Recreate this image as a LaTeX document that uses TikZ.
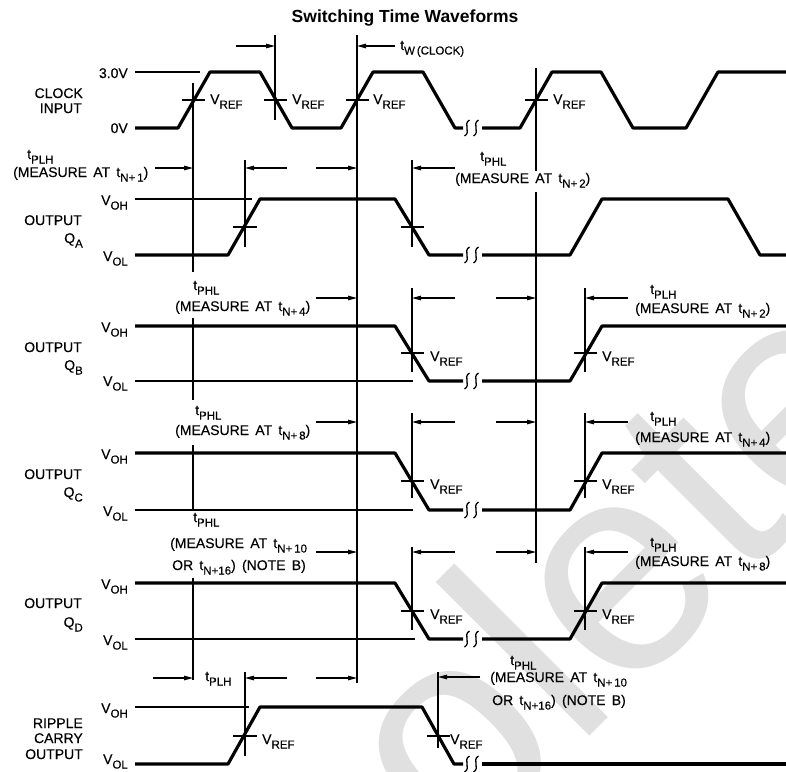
\documentclass[tikz,border=0pt]{standalone}
\usepackage{fontspec}
\setmainfont{Liberation Sans}
\newfontfamily\lblfont[WordSpace=1.6,FakeBold=0.3]{Liberation Sans}
\usetikzlibrary{arrows.meta}
\newcommand\lsub[1]{\raisebox{-4.5pt}{\fontsize{11.5}{11.5}\selectfont #1}}
\tikzset{
  wave/.style={line width=3.2pt, line join=round},
  thinln/.style={line width=1.1pt},
  meas/.style={line width=1.1pt, -{Triangle[length=9pt,width=4.5pt]}},
  lbl/.style={font=\fontsize{14}{16}\selectfont\lblfont, inner sep=0pt},
  brk/.pic={
    \draw[line width=1.3pt] (-2,-8) .. controls (-9,-4) and (0,4) .. (-7,8);
    \draw[line width=1.3pt] (7,-8) .. controls (0,-4) and (9,4) .. (2,8);
  }
}
\begin{document}
\begin{tikzpicture}[x=1pt,y=-1pt]
\useasboundingbox (0,0) rectangle (786,771);
\begin{scope}
  \clip (0,0) rectangle (786,771);
  \node[rotate=45, anchor=base west, text=black!12, font=\fontsize{300}{300}\selectfont, inner sep=0pt] (wm) at (68,1258) {Obsolete};
\end{scope}

% title
\node[font=\fontsize{17.5}{20}\selectfont\bfseries, inner sep=0pt] (title) at (405,18) {Switching Time Waveforms};

% ---------- CLOCK ----------
\draw[wave] (135,128) -- (178,128) -- (210,72) -- (260,72) -- (292,128) -- (341,128) -- (373,72) -- (423,72) -- (455,128) -- (463,128);
\draw[wave] (482,128) -- (520,128) -- (552,72) -- (601,72) -- (633,128) -- (686,128) -- (718,72) -- (786,72);
\draw[thinln] (135,72) -- (200,72);
\pic at (471.5,128) {brk};
\foreach \x in {193,275,357,536} \draw[thinln] (\x-11,100) -- (\x+12,100);

% ---------- Q_A ----------
\draw[wave] (135,255) -- (228,255) -- (260,199) -- (395,199) -- (429,255) -- (463,255);
\draw[wave] (482,255) -- (570,255) -- (602,199) -- (728,199) -- (760,255) -- (786,255);
\draw[thinln] (135,199) -- (252,199);
\pic at (471.5,255) {brk};
\draw[thinln] (233,227) -- (257,227);
\draw[thinln] (401,227) -- (424,227);

% ---------- Q_B ----------
\draw[wave] (135,326) -- (395,326) -- (429,381) -- (463,381);
\draw[wave] (482,381) -- (570,381) -- (602,326) -- (786,326);
\draw[thinln] (135,381) -- (413,381);
\pic at (471.5,381) {brk};
\draw[thinln] (401,353) -- (424,353);
\draw[thinln] (574,353) -- (597,353);

% ---------- Q_C ----------
\draw[wave] (135,453) -- (395,453) -- (429,510) -- (463,510);
\draw[wave] (482,510) -- (570,510) -- (602,453) -- (786,453);
\draw[thinln] (135,510) -- (413,510);
\pic at (471.5,510) {brk};
\draw[thinln] (401,481) -- (424,481);
\draw[thinln] (574,481) -- (597,481);

% ---------- Q_D ----------
\draw[wave] (135,583) -- (395,583) -- (429,639) -- (463,639);
\draw[wave] (482,639) -- (570,639) -- (602,583) -- (786,583);
\draw[thinln] (135,639) -- (415,639);
\pic at (471.5,639) {brk};
\draw[thinln] (401,611) -- (424,611);
\draw[thinln] (574,611) -- (597,611);

% ---------- Ripple carry ----------
\draw[wave] (135,764) -- (228,764) -- (260,707) -- (422,707) -- (454,764) -- (463,764);
\draw[wave] (482,764) -- (786,764);
\draw[thinln] (135,707) -- (249,707);
\pic at (471.5,764) {brk};
\draw[thinln] (233,736) -- (257,736);
\draw[thinln] (427,736) -- (450,736);

% ---------- vertical reference lines ----------
\draw[thinln] (193,83) -- (193,272) (193,318) -- (193,400) (193,445) -- (193,511) (193,578) -- (193,680);
\draw[thinln] (275,35) -- (275,120);
\draw[thinln] (357,35) -- (357,683);
\draw[thinln] (536,68) -- (536,171) (536,192) -- (536,563);
\draw[thinln] (245,160) -- (245,247) (245,672) -- (245,756);
\draw[thinln] (412,160) -- (412,247) (412,288) -- (412,372) (412,413) -- (412,498) (412,547) -- (412,630);
\draw[thinln] (585,288) -- (585,372) (585,413) -- (585,498) (585,547) -- (585,630);
\draw[thinln] (438,672) -- (438,748);

% arrows
\coordinate (tw1) at (236,46); \coordinate (tw1e) at (275,46);
\coordinate (tw2) at (395,46); \coordinate (tw2e) at (357,46);
\draw[meas] (tw1) -- (tw1e);
\draw[meas] (tw2) -- (tw2e);

\foreach \y in {168} {
  \draw[meas] (155,\y) -- (193,\y);
  \draw[meas] (287,\y) -- (245,\y);
  \draw[meas] (316,\y) -- (357,\y);
  \draw[meas] (455,\y) -- (412,\y);
}
\foreach \y in {298,422,552} {
  \draw[meas] (316,\y) -- (357,\y);
  \draw[meas] (455,\y) -- (412,\y);
  \draw[meas] (496,\y) -- (536,\y);
  \draw[meas] (628,\y) -- (585,\y);
}
\draw[meas] (153,678) -- (193,678);
\draw[meas] (287,678) -- (245,678);
\draw[meas] (316,678) -- (357,678);
\draw[meas] (480,677) -- (438,677);

% ---------- left labels ----------
\node[lbl,anchor=base east] (v30) at (128,78) {3.0V};
\node[lbl,anchor=base east] (v0) at (128,133) {0V};
\node[lbl,anchor=base east] (clk1) at (83,98) {CLOCK};
\node[lbl,anchor=base east] (clk2) at (82,113) {INPUT};

\node[lbl,anchor=base east] (qa1) at (82,225) {OUTPUT};
\node[lbl,anchor=base east] (qa2) at (83,243) {Q\lsub{A}};
\node[lbl,anchor=base east] (qaoh) at (128,205) {V\lsub{OH}};
\node[lbl,anchor=base east] (qaol) at (128,261) {V\lsub{OL}};

\node[lbl,anchor=base east] (qb1) at (82,352) {OUTPUT};
\node[lbl,anchor=base east] (qb2) at (83,370) {Q\lsub{B}};
\node[lbl,anchor=base east] (qboh) at (128,332) {V\lsub{OH}};
\node[lbl,anchor=base east] (qbol) at (128,386) {V\lsub{OL}};

\node[lbl,anchor=base east] (qc1) at (82,479) {OUTPUT};
\node[lbl,anchor=base east] (qc2) at (83,497) {Q\lsub{C}};
\node[lbl,anchor=base east] (qcoh) at (128,459) {V\lsub{OH}};
\node[lbl,anchor=base east] (qcol) at (128,516) {V\lsub{OL}};

\node[lbl,anchor=base east] (qd1) at (82,608) {OUTPUT};
\node[lbl,anchor=base east] (qd2) at (83,627) {Q\lsub{D}};
\node[lbl,anchor=base east] (qdoh) at (128,589) {V\lsub{OH}};
\node[lbl,anchor=base east] (qdol) at (128,645) {V\lsub{OL}};

\node[lbl,anchor=base east] (rc1) at (83,728) {RIPPLE};
\node[lbl,anchor=base east] (rc2) at (83,743) {CARRY};
\node[lbl,anchor=base east] (rc3) at (83,759) {OUTPUT};
\node[lbl,anchor=base east] (rcoh) at (128,713) {V\lsub{OH}};
\node[lbl,anchor=base east] (rcol) at (128,764) {V\lsub{OL}};

% ---------- VREF labels ----------
\foreach \x/\n in {210/a,292/b,373/c,553/d} \node[lbl,anchor=base west] (cr\n) at (\x,104) {V\lsub{REF}};
\node[lbl,anchor=base west] (brf1) at (430,361) {V\lsub{REF}};
\node[lbl,anchor=base west] (brf2) at (602,361) {V\lsub{REF}};
\node[lbl,anchor=base west] (crf1) at (430,489) {V\lsub{REF}};
\node[lbl,anchor=base west] (crf2) at (602,489) {V\lsub{REF}};
\node[lbl,anchor=base west] (drf1) at (430,619) {V\lsub{REF}};
\node[lbl,anchor=base west] (drf2) at (602,619) {V\lsub{REF}};
\node[lbl,anchor=base west] (rrf1) at (262,744) {V\lsub{REF}};
\node[lbl,anchor=base west] (rrf2) at (450,744) {V\lsub{REF}};

% ---------- timing labels ----------
\node[lbl,anchor=base west] (tw) at (400,50) {t\lsub{W\,(CLOCK)}};

\node[lbl,anchor=base west] (a1) at (27,159) {t\lsub{PLH}};
\node[lbl,anchor=base west] (a2) at (13,177) {(MEASURE AT t\lsub{N+\,1})};
\node[lbl,anchor=base west] (a3) at (480,161) {t\lsub{PHL}};
\node[lbl,anchor=base west] (a4) at (455,183) {(MEASURE AT t\lsub{N+\,2})};

\node[lbl,anchor=base west] (b1) at (193,290) {t\lsub{PHL}};
\node[lbl,anchor=base west] (b2) at (175,311) {(MEASURE AT t\lsub{N+\,4})};
\node[lbl,anchor=base west] (b3) at (650,294) {t\lsub{PLH}};
\node[lbl,anchor=base west] (b4) at (635,313) {(MEASURE AT t\lsub{N+\,2})};

\node[lbl,anchor=base west] (c1) at (195,415) {t\lsub{PHL}};
\node[lbl,anchor=base west] (c2) at (175,435) {(MEASURE AT t\lsub{N+\,8})};
\node[lbl,anchor=base west] (c3) at (650,421) {t\lsub{PLH}};
\node[lbl,anchor=base west] (c4) at (635,442) {(MEASURE AT t\lsub{N+\,4})};

\node[lbl,anchor=base west] (d1) at (193,522) {t\lsub{PHL}};
\node[lbl,anchor=base west] (d2) at (170,548) {(MEASURE AT t\lsub{N+\,10}};
\node[lbl,anchor=base west] (d3) at (172,570) {OR t\lsub{N+16}) (NOTE B)};
\node[lbl,anchor=base west] (d4) at (650,547) {t\lsub{PLH}};
\node[lbl,anchor=base west] (d5) at (635,566) {(MEASURE AT t\lsub{N+\,8})};

\node[lbl,anchor=base west] (e1) at (205,681) {t\lsub{PLH}};
\node[lbl,anchor=base west] (e2) at (510,665) {t\lsub{PHL}};
\node[lbl,anchor=base west] (e3) at (490,682) {(MEASURE AT t\lsub{N+\,10}};
\node[lbl,anchor=base west] (e4) at (492,705) {OR t\lsub{N+16}) (NOTE B)};
\end{tikzpicture}
\end{document}
